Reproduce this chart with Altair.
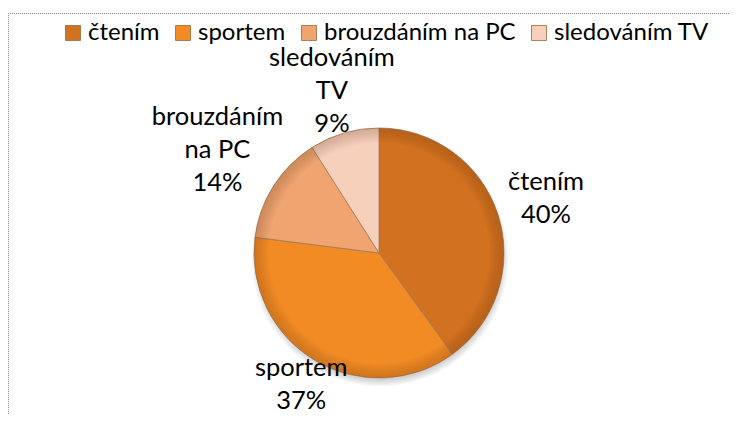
import altair as alt
import pandas as pd

# ---- data ----
categories = ["čtením", "sportem", "brouzdáním na PC", "sledováním TV"]
values = [40, 37, 14, 9]
label_lines = [["čtením"], ["sportem"], ["brouzdáním", "na PC"], ["sledováním", "TV"]]

# ---- styles ----
colors = ["#D2711F", "#F38B24", "#F0A571", "#F7D0BC"]
FONT = "Lato"
FS = 25.5        # data-label font size
LFS = 24         # legend font size
LH = 33          # data-label line height
W, H = 722, 407  # view size (whole svg, padding 0)
CX, CY = 371, 245
R = 125
GAP = 15         # gap between pie edge and label box
CHAR_W = 12.5    # approximate glyph width used to size label boxes

df = pd.DataFrame({
    "cat": categories,
    "value": values,
    "order": list(range(len(categories))),
    "label": ["\n".join(l + [f"{v}%"]) for l, v in zip(label_lines, values)],
    "nlines": [len(l) + 1 for l in label_lines],
    "maxchars": [max(len(s) for s in l + [f"{v}%"]) for l, v in zip(label_lines, values)],
})
total = sum(values)
one = pd.DataFrame({"k": [0]})

base = alt.Chart(df).encode(
    theta=alt.Theta("value:Q", stack=True),
    order=alt.Order("order:Q", sort="ascending"),
    x=alt.value(CX),
    y=alt.value(CY),
)

shadow = alt.Chart(one).mark_arc(
    theta=0, theta2=6.2832, outerRadius=R + 4,
    fill=alt.RadialGradient(
        gradient="radial",
        stops=[
            alt.GradientStop(color="rgba(0,0,0,0.35)", offset=0),
            alt.GradientStop(color="rgba(0,0,0,0.30)", offset=0.9),
            alt.GradientStop(color="rgba(0,0,0,0)", offset=1),
        ],
    ),
).encode(x=alt.value(CX + 1), y=alt.value(CY + 5))

pie = base.mark_arc(outerRadius=R, stroke="#A07A5C", strokeWidth=0.8).encode(
    color=alt.Color(
        "cat:N",
        sort=None,
        scale=alt.Scale(domain=categories, range=colors),
        legend=alt.Legend(
            title=None,
            orient="none",
            legendX=53,
            legendY=13,
            direction="horizontal",
            symbolType="square",
            symbolSize=225,
            symbolStrokeWidth=0.8,
            symbolStrokeColor="#9A6A40",
            labelFont=FONT,
            labelFontSize=LFS,
            labelColor="black",
            labelOffset=3,
            labelLimit=400,
            columnPadding=11,
        ),
    )
)

bevel = alt.Chart(one).mark_arc(
    theta=0, theta2=6.2832, outerRadius=R,
    fill=alt.RadialGradient(
        gradient="radial",
        stops=[
            alt.GradientStop(color="rgba(0,0,0,0)", offset=0),
            alt.GradientStop(color="rgba(0,0,0,0)", offset=0.88),
            alt.GradientStop(color="rgba(90,40,0,0.22)", offset=1),
        ],
    ),
).encode(x=alt.value(CX), y=alt.value(CY))

# labels: placed on each slice's bisector, just outside the pie edge,
# pushed out far enough for the (estimated) text box to clear the edge
labels = (
    alt.Chart(df)
    .transform_window(cum="sum(value)", sort=[alt.SortField("order")], frame=[None, 0])
    .transform_calculate(ang=f"(datum.cum - datum.value / 2) / {total} * 2 * PI")
    .transform_calculate(
        hw=f"datum.maxchars * {CHAR_W} / 2",
        hh=f"(datum.nlines - 1) * {LH} / 2 - 5.5",
        s="max(abs(sin(datum.ang)), 0.000001)",
        c="max(abs(cos(datum.ang)), 0.000001)",
    )
    .transform_calculate(lr=f"{R} + {GAP} + min(datum.hw / datum.s, datum.hh / datum.c)")
    .transform_calculate(
        px=f"{CX} + datum.lr * sin(datum.ang)",
        py=f"{CY} - datum.lr * cos(datum.ang) - (datum.nlines - 1) * {LH} / 2",
    )
    .mark_text(
        font=FONT, fontSize=FS, lineBreak="\n", lineHeight=LH,
        color="black", align="center", baseline="middle",
    )
    .encode(
        x=alt.X("px:Q", scale=None, axis=None),
        y=alt.Y("py:Q", scale=None, axis=None),
        text="label:N",
    )
)

frame_style = dict(color="#8a8a8a", strokeDash=[1, 1], strokeWidth=1)
left_border = alt.Chart(one).mark_rule(**frame_style).encode(
    x=alt.value(0.5), y=alt.value(5), y2=alt.value(H)
)
top_border = alt.Chart(one).mark_rule(**frame_style).encode(
    x=alt.value(0), x2=alt.value(W), y=alt.value(5.5)
)

chart = (
    alt.layer(left_border, top_border, shadow, pie, bevel, labels)
    .resolve_scale(theta="independent")
    .properties(
        width=W, height=H,
        padding=0,
        autosize=alt.AutoSizeParams(type="none"),
        background="white",
    )
    .configure_view(strokeWidth=0)
)

chart.save("out.html", embed_options={"renderer": "svg", "actions": False})
